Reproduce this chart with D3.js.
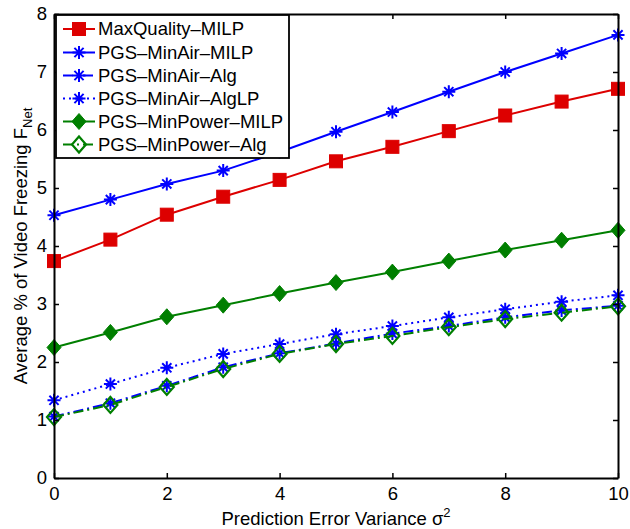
<!DOCTYPE html>
<html>
<head>
<meta charset="utf-8">
<script src="https://cdn.jsdelivr.net/npm/d3@7"></script>
<style>
  html, body { margin: 0; padding: 0; background: #fff; }
  svg { display: block; font-family: "Liberation Sans", Arial, Helvetica, sans-serif; }
</style>
</head>
<body>
<svg id="chart" width="630" height="529"></svg>
<script>
// ---- data ----
const xValues = [0, 1, 2, 3, 4, 5, 6, 7, 8, 9, 10];
const maxQualityMILP   = [3.74, 4.11, 4.54, 4.85, 5.14, 5.46, 5.71, 5.98, 6.25, 6.49, 6.71];
const minAirMILP       = [4.53, 4.80, 5.07, 5.30, 5.62, 5.97, 6.31, 6.66, 7.00, 7.32, 7.64];
const minAirAlg        = [1.06, 1.29, 1.59, 1.91, 2.15, 2.32, 2.49, 2.62, 2.77, 2.89, 2.97];
const minAirAlgLP      = [1.34, 1.62, 1.90, 2.14, 2.31, 2.48, 2.62, 2.77, 2.91, 3.04, 3.15];
const minPowerMILP     = [2.25, 2.51, 2.78, 2.98, 3.18, 3.37, 3.55, 3.74, 3.93, 4.10, 4.27];
const minPowerAlg      = [1.05, 1.26, 1.57, 1.88, 2.14, 2.31, 2.45, 2.60, 2.74, 2.85, 2.96];
const seriesNames = ["MaxQuality\u2013MILP", "PGS\u2013MinAir\u2013MILP", "PGS\u2013MinAir\u2013Alg",
                     "PGS\u2013MinAir\u2013AlgLP", "PGS\u2013MinPower\u2013MILP", "PGS\u2013MinPower\u2013Alg"];
const xTicks = [0, 2, 4, 6, 8, 10];
const yTicks = [0, 1, 2, 3, 4, 5, 6, 7, 8];

// ---- styles ----
const RED = "#dd0000", BLUE = "#0000ff", GREEN = "#007f00";
const series = [
  { name: seriesNames[0], values: maxQualityMILP, color: RED,   dash: null,         marker: "square" },
  { name: seriesNames[1], values: minAirMILP,     color: BLUE,  dash: null,         marker: "star" },
  { name: seriesNames[2], values: minAirAlg,      color: BLUE,  dash: "10,4,2,4",   marker: "star" },
  { name: seriesNames[3], values: minAirAlgLP,    color: BLUE,  dash: "2,4",        marker: "star" },
  { name: seriesNames[4], values: minPowerMILP,   color: GREEN, dash: null,         marker: "diamond" },
  { name: seriesNames[5], values: minPowerAlg,    color: GREEN, dash: "10,4,2,4",   marker: "diamondOpen" }
];

const svg = d3.select("#chart");
const m = { left: 54, right: 618, top: 14, bottom: 478 };
const x = d3.scaleLinear().domain([0, 10]).range([m.left, m.right]);
const y = d3.scaleLinear().domain([0, 8]).range([m.bottom, m.top]);
const FS = 18.5;

function drawMarker(g, type, cx, cy, color, scale) {
  const s = scale || 1;
  if (type === "square") {
    const h = 6.5 * s;
    g.append("rect").attr("x", cx - h).attr("y", cy - h).attr("width", 2 * h).attr("height", 2 * h)
      .attr("fill", color).attr("stroke", color).attr("stroke-width", 1);
  } else if (type === "star") {
    const r = 6.5 * s, d = r * 0.7071;
    const p = `M${cx - r},${cy}L${cx + r},${cy}M${cx},${cy - r}L${cx},${cy + r}` +
              `M${cx - d},${cy - d}L${cx + d},${cy + d}M${cx - d},${cy + d}L${cx + d},${cy - d}`;
    g.append("path").attr("d", p).attr("stroke", color).attr("stroke-width", 2).attr("fill", "none");
  } else if (type === "diamond" || type === "diamondOpen") {
    const w = 7 * s, hh = 8 * s;
    const p = `M${cx},${cy - hh}L${cx + w},${cy}L${cx},${cy + hh}L${cx - w},${cy}Z`;
    g.append("path").attr("d", p)
      .attr("fill", type === "diamond" ? color : "none")
      .attr("stroke", color).attr("stroke-width", type === "diamond" ? 1 : 2.2);
  }
}

// axes background
svg.append("rect").attr("x", m.left).attr("y", m.top)
  .attr("width", m.right - m.left).attr("height", m.bottom - m.top)
  .attr("fill", "#fff").attr("stroke", "none");

// series
const line = d3.line().x((d, i) => x(xValues[i])).y(d => y(d));
const gData = svg.append("g");
series.forEach(s => {
  gData.append("path").datum(s.values).attr("d", line)
    .attr("fill", "none").attr("stroke", s.color).attr("stroke-width", 2)
    .attr("stroke-dasharray", s.dash);
  s.values.forEach((v, i) => drawMarker(gData, s.marker, x(xValues[i]), y(v), s.color));
});

// axes (bottom & left with labels, top & right mirrored ticks)
const tickLen = 5;
const axB = d3.axisBottom(x).tickValues(xTicks).tickSizeInner(-tickLen).tickSizeOuter(0).tickPadding(9).tickFormat(d3.format("d"));
const axT = d3.axisTop(x).tickValues(xTicks).tickSizeInner(-tickLen).tickSizeOuter(0).tickFormat("");
const axL = d3.axisLeft(y).tickValues(yTicks).tickSizeInner(-tickLen).tickSizeOuter(0).tickPadding(7).tickFormat(d3.format("d"));
const axR = d3.axisRight(y).tickValues(yTicks).tickSizeInner(-tickLen).tickSizeOuter(0).tickFormat("");

function styleAxis(g) {
  g.select(".domain").attr("stroke", "#000").attr("stroke-width", 2);
  g.selectAll(".tick line").attr("stroke", "#000").attr("stroke-width", 1.5);
  g.selectAll(".tick text").attr("fill", "#000").style("font-size", FS + "px")
    .style("font-family", "'Liberation Sans', Arial, sans-serif");
}
svg.append("g").attr("transform", `translate(0,${m.bottom})`).call(axB).call(styleAxis);
svg.append("g").attr("transform", `translate(0,${m.top})`).call(axT).call(styleAxis);
svg.append("g").attr("transform", `translate(${m.left},0)`).call(axL).call(styleAxis);
svg.append("g").attr("transform", `translate(${m.right},0)`).call(axR).call(styleAxis);

// axis titles
const xt = svg.append("text").attr("x", (m.left + m.right) / 2).attr("y", 525)
  .attr("text-anchor", "middle").style("font-size", FS + "px").attr("fill", "#000");
xt.append("tspan").text("Prediction Error Variance \u03C3");
xt.append("tspan").attr("dy", -8).style("font-size", "13px").text("2");

const yt = svg.append("text")
  .attr("transform", `translate(27,${(m.top + m.bottom) / 2}) rotate(-90)`)
  .attr("text-anchor", "middle").style("font-size", FS + "px").attr("fill", "#000");
yt.append("tspan").text("Average % of Video Freezing F");
yt.append("tspan").attr("dy", 5).style("font-size", "13px").text("Net");

// legend
const lg = svg.append("g");
const L = { x0: 56, y0: 15, x1: 289, y1: 158 };
lg.append("rect").attr("x", L.x0).attr("y", L.y0).attr("width", L.x1 - L.x0).attr("height", L.y1 - L.y0)
  .attr("fill", "#fff").attr("stroke", "#000").attr("stroke-width", 1.8);
const legendY = [29, 52.5, 75.5, 98.5, 121.5, 144.5];
series.forEach((s, i) => {
  const yy = legendY[i];
  lg.append("line").attr("x1", 63).attr("x2", 95).attr("y1", yy).attr("y2", yy)
    .attr("stroke", s.color).attr("stroke-width", 2).attr("stroke-dasharray", s.dash);
  drawMarker(lg, s.marker, 79, yy, s.color);
  lg.append("text").attr("x", 98).attr("y", yy).attr("dy", "0.35em")
    .style("font-size", FS + "px").attr("fill", "#000").text(s.name);
});
</script>
</body>
</html>
